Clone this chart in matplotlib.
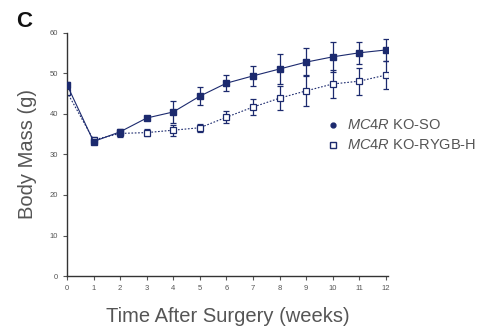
import matplotlib.pyplot as plt

plt.rcParams['font.family'] = ['Liberation Sans', 'DejaVu Sans']
plt.rcParams['mathtext.fontset'] = 'custom'
plt.rcParams['mathtext.it'] = 'Liberation Sans:italic'
plt.rcParams['mathtext.rm'] = 'Liberation Sans'

weeks = list(range(13))

# MC4R KO sham-operated
so_mean = [47.2, 33.2, 35.6, 39.0, 40.5, 44.4, 47.6, 49.4, 51.1, 52.8, 54.1, 55.1, 55.8]
so_err = [0.8, 0.6, 0.8, 0.6, 2.8, 2.2, 2.0, 2.5, 3.8, 3.5, 3.7, 2.7, 2.7]

# MC4R KO RYGB-H
rygb_mean = [45.4, 33.6, 35.2, 35.4, 36.0, 36.6, 39.2, 41.7, 43.9, 45.7, 47.4, 48.1, 49.6]
rygb_err = [0.8, 0.6, 0.8, 0.8, 1.4, 1.0, 1.5, 2.0, 3.0, 3.8, 3.5, 3.3, 3.4]

navy = '#1c2a6e'
grey = '#555555'

fig = plt.figure(figsize=(4.87, 3.28), dpi=100)
ax = fig.add_axes([0.1376, 0.1585, 0.66, 0.741])

ax.errorbar(weeks, so_mean, yerr=so_err, color=navy, marker='s', markersize=3.8,
            linewidth=0.8, elinewidth=0.9, capsize=2.2, capthick=0.9,
            markerfacecolor=navy, markeredgecolor=navy, zorder=3)
ax.errorbar(weeks, rygb_mean, yerr=rygb_err, color=navy, marker='s', markersize=4.5,
            linewidth=0.8, linestyle=(0, (1.5, 1.5)), elinewidth=0.9, capsize=2.2,
            capthick=0.9, markerfacecolor='white', markeredgecolor=navy,
            markeredgewidth=0.9, zorder=2)

ax.set_xlim(0, 12.1)
ax.set_ylim(0, 60)
ax.set_xticks(weeks)
ax.set_yticks(range(0, 61, 10))
for s in ['top', 'right']:
    ax.spines[s].set_visible(False)
for s in ['left', 'bottom']:
    ax.spines[s].set_color('#333333')
    ax.spines[s].set_linewidth(1.0)
ax.tick_params(labelsize=5.5, colors=grey, length=3, width=0.8)

ax.set_xlabel('Time After Surgery (weeks)', fontsize=14.5, color=grey, labelpad=11)
ax.set_ylabel('Body Mass (g)', fontsize=14.5, color=grey, labelpad=9)

fig.text(0.033, 0.918, 'C', fontsize=16, fontweight='bold', color='#111111')

# legend drawn by hand so the right edge clips like the panel does
fig.lines.append(plt.Line2D([0.684], [0.619], marker='o', markersize=3.5, color=navy,
                            transform=fig.transFigure))
fig.lines.append(plt.Line2D([0.684], [0.558], marker='s', markersize=4, color=navy,
                            markerfacecolor='white', transform=fig.transFigure))
fig.text(0.713, 0.619, r'$\mathit{MC4R}$ KO-SO', fontsize=10.5, color=grey, va='center')
fig.text(0.713, 0.558, r'$\mathit{MC4R}$ KO-RYGB-H', fontsize=10.5, color=grey, va='center')

fig.savefig('out.png', dpi=100)
